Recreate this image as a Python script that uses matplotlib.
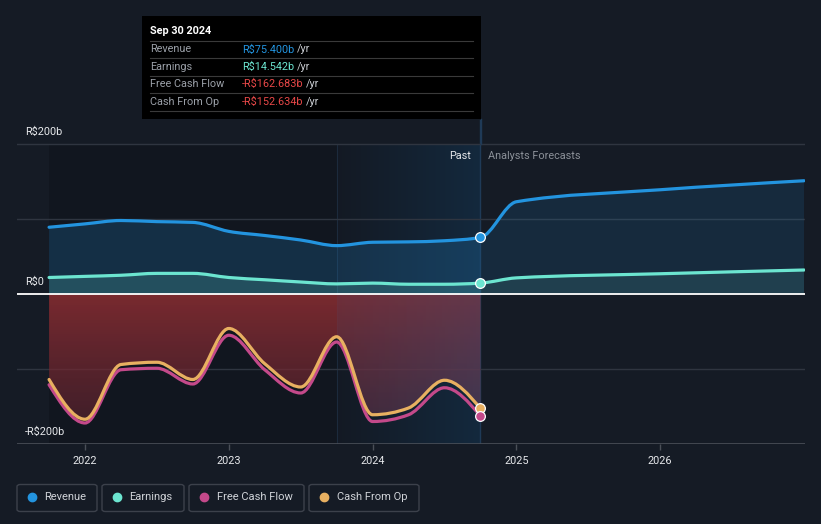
import numpy as np
import matplotlib
matplotlib.use('Agg')
import matplotlib.pyplot as plt
from matplotlib.path import Path
from matplotlib.patches import PathPatch, Rectangle, FancyBboxPatch

plt.rcParams['font.family'] = ['Roboto', 'DejaVu Sans']

# quarterly history (decimal years) and analyst forecasts, values in R$ billions
past_t = [2021.75, 2022.0, 2022.25, 2022.5, 2022.75, 2023.0, 2023.25,
          2023.5, 2023.75, 2024.0, 2024.25, 2024.5, 2024.75]
revenue_past = [89, 93.5, 98, 96.5, 95.5, 83.5, 78, 72, 64.5, 69, 69.5, 71, 75.4]
earnings_past = [22, 23.5, 25, 27.5, 27.5, 22, 19, 16, 13.5, 14.5, 13, 13, 14.542]
fcf_past = [-121, -172, -101, -99, -120, -55, -101, -132, -64, -170, -161, -125, -162.683]
cfo_past = [-114, -167, -94, -91, -114, -46, -93, -124, -57, -161, -152, -115, -152.634]

fc_t = [2024.75, 2025.0, 2026.0, 2027.0]
revenue_fc = [75.4, 123, 139, 151]
earnings_fc = [14.542, 21.5, 27, 32]

year_ticks = [2022, 2023, 2024, 2025, 2026]
y_labels = {200: 'R$200b', 0: 'R$0', -200: '-R$200b'}

BG = '#151b25'
C_REV = '#2394df'
C_EARN = '#6ce5d0'
C_FCF = '#c4498a'
C_CFO = '#e8b061'
C_RED = '#e84848'

W, H = 821, 524
X0, X1 = 2021.527, 2027.007
Y0, Y1 = -200, 232


def monotone_path(x, y, base=None):
    """cubic bezier path through the points (d3 monotoneX style)"""
    x = np.asarray(x, float)
    y = np.asarray(y, float)
    h = np.diff(x)
    s = np.diff(y) / h
    m = np.zeros(len(x))
    for i in range(1, len(x) - 1):
        p = (s[i - 1] * h[i] + s[i] * h[i - 1]) / (h[i - 1] + h[i])
        m[i] = (np.sign(s[i - 1]) + np.sign(s[i])) * min(abs(s[i - 1]), abs(s[i]), 0.5 * abs(p))
    m[0] = (3 * s[0] - m[1]) / 2
    m[-1] = (3 * s[-1] - m[-2]) / 2
    verts = [(x[0], y[0])]
    codes = [Path.MOVETO]
    for i in range(len(x) - 1):
        d = h[i] / 3
        verts += [(x[i] + d, y[i] + m[i] * d), (x[i + 1] - d, y[i + 1] - m[i + 1] * d), (x[i + 1], y[i + 1])]
        codes += [Path.CURVE4] * 3
    if base is not None:
        verts += [(x[-1], base), (x[0], base), (x[0], y[0])]
        codes += [Path.LINETO, Path.LINETO, Path.CLOSEPOLY]
    return Path(verts, codes)


def px(x, y):
    return x / W, 1 - y / H


fig = plt.figure(figsize=(W / 100, H / 100), dpi=100, facecolor=BG)
ax = fig.add_axes([17 / W, (H - 444) / H, (805 - 17) / W, (444 - 120) / H])
ax.set_facecolor(BG)
ax.set_xlim(X0, X1)
ax.set_ylim(Y0, Y1)
for sp in ax.spines.values():
    sp.set_visible(False)

# shaded past regions
ax.add_patch(Rectangle((past_t[0], -200), 2023.75 - past_t[0], 400, color='#0b0e14', alpha=0.35, lw=0, zorder=0))
grad = np.linspace(0, 1, 256).reshape(1, -1)
ax.imshow(grad, extent=(2023.75, 2024.75, -200, 200), aspect='auto', origin='lower',
          cmap=matplotlib.colors.LinearSegmentedColormap.from_list(
              'hl', [(0.075, 0.1, 0.14, 1.0), (0.075, 0.16, 0.24, 1.0)]), zorder=0.5)
ax.axvline(2023.75, ymin=0, ymax=(200 - Y0) / (Y1 - Y0), color='#1c2a3c', lw=0.8, zorder=0.6)

# grid
for v in [200, 100, -100]:
    ax.axhline(v, color='#2f3540', lw=1, zorder=1)
ax.axhline(-200, color='#4a4f58', lw=1.2, zorder=1)

# fills
clip_past = Rectangle((X0, Y0), 2024.75 - X0, Y1 - Y0, transform=ax.transData)
clip_fc = Rectangle((2024.75, Y0), X1 - 2024.75, Y1 - Y0, transform=ax.transData)
rev_t = past_t + fc_t[1:]
rev_v = revenue_past + revenue_fc[1:]
earn_v = earnings_past + earnings_fc[1:]
for clip, a in [(clip_past, 0.2), (clip_fc, 0.13)]:
    p = PathPatch(monotone_path(rev_t, rev_v, 0), fc=C_REV, alpha=a, lw=0, zorder=2)
    ax.add_patch(p)
    p.set_clip_path(clip)
    p = PathPatch(monotone_path(rev_t, earn_v, 0), fc=C_EARN, alpha=a * 0.9, lw=0, zorder=2.1)
    ax.add_patch(p)
    p.set_clip_path(clip)

# red gradient fill between zero and cash flow
red_grad = np.linspace(0, 1, 256).reshape(-1, 1)
red_cmap = matplotlib.colors.LinearSegmentedColormap.from_list(
    'red', [(0.42, 0.15, 0.2, 0.45), (0.5, 0.17, 0.19, 0.95)])
im = ax.imshow(red_grad, extent=(past_t[0], past_t[-1], -200, 0), aspect='auto',
               origin='lower', cmap=red_cmap, zorder=2.2)
fcf_patch = PathPatch(monotone_path(past_t, cfo_past, 0), fc='none', lw=0, transform=ax.transData)
im.set_clip_path(fcf_patch)
# bluish tint over red in the last year
tint_grad = np.linspace(0, 1, 256).reshape(1, -1)
tint = ax.imshow(tint_grad, extent=(2023.75, 2024.75, -200, 0), aspect='auto', origin='lower',
                 cmap=matplotlib.colors.LinearSegmentedColormap.from_list(
                     'tint', [(0.2, 0.35, 0.55, 0.12), (0.2, 0.35, 0.55, 0.3)]), zorder=2.3)
tint.set_clip_path(PathPatch(monotone_path(past_t, cfo_past, 0), fc='none', lw=0, transform=ax.transData))

# zero line
ax.axhline(0, color='white', lw=1.3, zorder=3)

# lines
lw = 2.3
for t, v, c in [(rev_t, rev_v, C_REV), (rev_t, earn_v, C_EARN),
                (past_t, fcf_past, C_FCF), (past_t, cfo_past, C_CFO)]:
    ax.add_patch(PathPatch(monotone_path(t, v), fc='none', ec=c, lw=lw, zorder=4, capstyle='round'))

for v, c in [(revenue_past[-1], C_REV), (earnings_past[-1], C_EARN),
             (cfo_past[-1], C_CFO), (fcf_past[-1], C_FCF)]:
    ax.plot([past_t[-1]], [v], 'o', ms=7, mfc=c, mec='white', mew=0.9, zorder=5)

# past / forecast divider
ax.axvline(2024.75, color='#1f3a57', lw=1, zorder=0.7)
fig.add_artist(plt.Line2D([481 / W, 481 / W], [1 - 119 / H, 1 - 144 / H], color='#1f3a57', lw=1))
ax.text(2024.75 - 9 / 143.8, 184, 'Past', color='#e6e8eb', fontsize=7.8, ha='right', va='center', zorder=6)
ax.text(2024.75 + 8 / 143.8, 184, 'Analysts Forecasts', color='#8c9199', fontsize=7.8, ha='left', va='center', zorder=6)

# y labels
for v, s in y_labels.items():
    ax.text(X0 + 8 / 143.8, v + 16, s, color='#e6e8eb', fontsize=7.8, ha='left', va='center', zorder=6)

# x ticks
ax.set_yticks([])
ax.set_xticks(year_ticks)
ax.set_xticklabels([str(y) for y in year_ticks])
ax.tick_params(axis='x', colors='#4a4f58', length=4, width=1, labelcolor='#e6e8eb', labelsize=7.8, pad=5)

# tooltip
fig.patches.append(Rectangle(px(142, 119), (481 - 142) / W, (119 - 16) / H, transform=fig.transFigure,
                             fc='black', ec='none', zorder=10))
fig.text(*px(150, 31), 'Sep 30 2024', color='white', fontsize=7.8, fontweight='bold', va='center', zorder=11)
for yy in [41, 58, 75.5, 93, 110.5]:
    fig.add_artist(plt.Line2D([150 / W, 473 / W], [1 - yy / H] * 2, color='#3a3a3a', lw=0.8, zorder=11))
rows = [('Revenue', 'R$75.400b', C_REV), ('Earnings', 'R$14.542b', C_EARN),
        ('Free Cash Flow', '-R$162.683b', C_RED), ('Cash From Op', '-R$152.634b', C_RED)]
fig.canvas.draw()
renderer = fig.canvas.get_renderer()
for i, (name, val, c) in enumerate(rows):
    yy = 49.5 + i * 17.4
    fig.text(*px(150, yy), name, color='#9ba0a8', fontsize=7.8, va='center', zorder=11)
    t = fig.text(*px(242, yy), val, color=c, fontsize=7.8, va='center', zorder=11)
    bb = t.get_window_extent(renderer)
    fig.text(*px(bb.x1 + 2.5, yy), '/yr', color='#c9ccd1', fontsize=7.8, va='center', zorder=11)

# legend
legend = [('Revenue', C_REV, 17, 97), ('Earnings', C_EARN, 102, 184),
          ('Free Cash Flow', C_FCF, 189, 304), ('Cash From Op', C_CFO, 309, 419)]
for name, c, xa, xb in legend:
    fig.patches.append(FancyBboxPatch(px(xa, 511.5), (xb - xa) / W, 27 / H, transform=fig.transFigure,
                                      boxstyle='round,pad=0,rounding_size=0.004', fc=BG, ec='#3c414b', lw=1))
    fig.add_artist(plt.Line2D([(xa + 15) / W], [1 - 497 / H], marker='o', ms=6, color=c, mec=c))
    fig.text(*px(xa + 27.5, 497), name, color='#d0d3d8', fontsize=8, va='center')

fig.savefig('out.png', dpi=100, facecolor=BG)
